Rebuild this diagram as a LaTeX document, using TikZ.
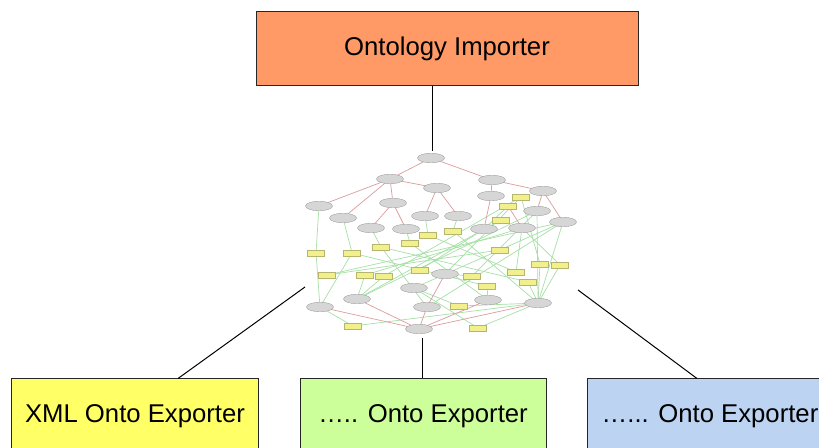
\documentclass[tikz,border=0pt]{standalone}
\usepackage{fontspec}
\setmainfont{Liberation Sans}
\usetikzlibrary{shapes.geometric}
\definecolor{orangebox}{HTML}{FF9966}
\definecolor{yellowbox}{HTML}{FFFF66}
\definecolor{greenbox}{HTML}{CCFF99}
\definecolor{bluebox}{HTML}{BCD3F2}
\definecolor{gfill}{HTML}{D6D6D6}
\definecolor{gline}{HTML}{A0A0A0}
\definecolor{yfill}{HTML}{F2F08C}
\definecolor{yline}{HTML}{B5B56E}
\definecolor{redge}{HTML}{DB9C9C}
\definecolor{gedge}{HTML}{A6E0A6}
\tikzset{
  bigbox/.style={draw=black!85, line width=1bp, minimum width=246bp, minimum height=74bp,
    inner sep=0pt, font=\fontsize{25.7bp}{30bp}\selectfont},
  gnode/.style={ellipse, fill=gfill, draw=gline, line width=0.4bp, minimum width=27bp,
    minimum height=9.5bp, inner sep=0pt},
  ynode/.style={rectangle, fill=yfill, draw=yline, line width=0.4bp, minimum width=17bp,
    minimum height=6bp, inner sep=0pt},
  redg/.style={draw=redge, line width=0.7bp},
  greeng/.style={draw=gedge, line width=0.7bp},
  link/.style={draw=black, line width=1bp}
}
\begin{document}
\begin{tikzpicture}[x=1bp, y=-1bp]
\useasboundingbox (0,0) rectangle (819,448);
\clip (0,0) rectangle (819,448);
\fill[white] (0,0) rectangle (819,448);

% graph nodes
\foreach \n/\p in {g1/{431,158}, g2/{390,179}, g3/{437,188}, g4/{492,180}, g5/{543,191},
  g6/{319,206}, g7/{393,203}, g8/{491,196}, g9/{343,218}, g10/{425,216}, g11/{458,216},
  g12/{537,211}, g13/{563,222}, g14/{371,228}, g15/{406,229}, g16/{484,229}, g17/{522,228},
  g18/{445,274}, g19/{414,288}, g20/{357,299}, g21/{320,307}, g22/{427,307}, g23/{488,300},
  g24/{538,303}, g25/{419,329}}
  \coordinate (\n) at (\p);
\foreach \n/\p in {ya/{521,197}, yb/{508,206}, yc/{501,220}, yd/{428,235}, ye/{453,231},
  yf/{410,243}, yg/{316,253}, yh/{352,253}, yi/{381,247}, yj/{500,250}, yk/{327,275},
  yl/{365,275}, ym/{384,276}, yn/{420,270}, yo/{472,276}, yp/{540,264}, yq/{560,265},
  yr/{516,272}, ys/{487,286}, yt/{528,282}, yu/{459,306}, yv/{353,326}, yw/{478,328}}
  \coordinate (\n) at (\p);

% green edges
\foreach \a/\b in {g6/yg, yg/g21, g9/yh, yh/g21, g14/yi, yi/g22, g15/yf, g10/yd, g11/ye,
  g13/yk, g17/yl, g12/g20, ya/ym, g13/g19, g16/yn, yc/g20, yj/yk,
  yh/ys, yi/yt, ye/g24, yd/yr, g12/g24, g13/g24, ya/yp, g17/yq, g24/yp, g24/yq, g24/yt,
  g21/yv, yv/g24, g19/yw, g19/yu, yu/g24, g20/yl, g20/ym, g18/yo, g23/ys, yw/g24,
  ya/g18, g12/yo, yb/g16, g17/yr, g13/g22, yf/g23}
  \draw[greeng] (\a) -- (\b);
% red edges
\foreach \a/\b in {g1/g2, g1/g4, g2/g6, g2/g9, g2/g7, g2/g3, g7/g14, g7/g15, g3/g10, g3/g11,
  g4/g8, g4/g5, g8/g16, g5/g12, g5/g13, yb/g17, g21/g25, g20/g25, g22/g25, g18/g22,
  g23/g25, g24/g25}
  \draw[redg] (\a) -- (\b);

\foreach \n in {g1,g2,g3,g4,g5,g6,g7,g8,g9,g10,g11,g12,g13,g14,g15,g16,g17,g18,g19,g20,g21,g22,g23,g24,g25}
  \node[gnode] (n\n) at (\n) {};
\foreach \n in {ya,yb,yc,yd,ye,yf,yg,yh,yi,yj,yk,yl,ym,yn,yo,yp,yq,yr,ys,yt,yu,yv,yw}
  \node[ynode] (n\n) at (\n) {};

% main boxes
\node[bigbox, fill=orangebox, minimum width=382bp] (imp) at (447,49) {Ontology Importer};
\node[bigbox, fill=yellowbox] (xml) at (135,416) {XML Onto Exporter};
\node[bigbox, fill=greenbox] (mid) at (423,416) {….. Onto Exporter};
\node[bigbox, fill=bluebox] (rgt) at (710,416) {…... Onto Exporter};

% connector ends at the graph
\coordinate (gtop) at (432,151);
\coordinate (gleft) at (305,287);
\coordinate (gbot) at (422,338);
\coordinate (gright) at (578,290);

\draw[link] (imp.south -| gtop) -- (gtop);
\draw[link] (gleft) -- (xml.north -| 178,0);
\draw[link] (gbot) -- (mid.north -| gbot);
\draw[link] (gright) -- (rgt.north -| 697,0);
\end{tikzpicture}
\end{document}
